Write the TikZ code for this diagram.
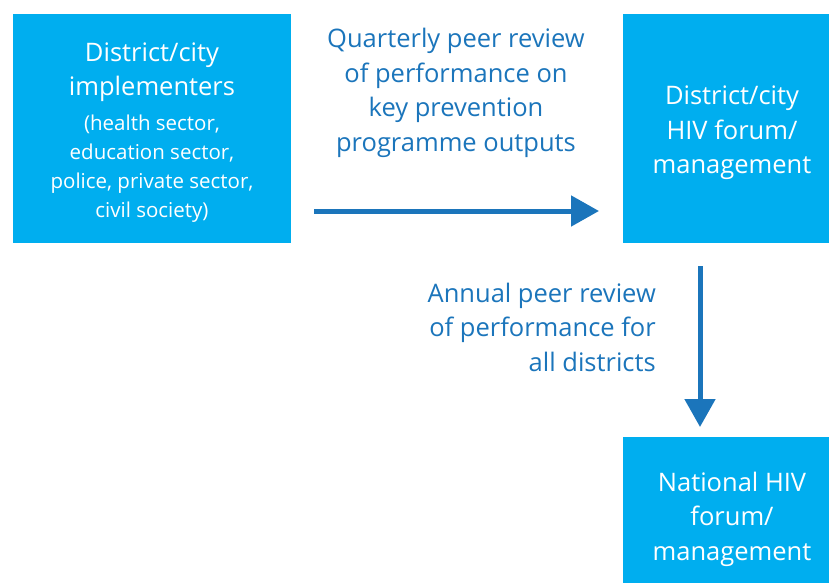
\documentclass[tikz,border=0pt]{standalone}
\usepackage{fontspec}
\setmainfont{Open Sans}
\usepackage{xcolor}
\usepackage{tikz}
\usetikzlibrary{arrows.meta}

\definecolor{boxcyan}{HTML}{00AEEF}
\definecolor{flowblue}{HTML}{1B75BB}

\tikzset{
  unitbox/.style={fill=boxcyan, draw=none, text=white, align=center, inner sep=0pt},
  flow/.style={draw=flowblue, line width=5pt, -{Triangle[length=28pt,width=30pt]}},
  flowlabel/.style={text=flowblue, inner sep=0pt}
}

\begin{document}
\begin{tikzpicture}[x=1pt, y=-1pt, every node/.style={font=\fontsize{25.5}{34.5}\selectfont}]
  \useasboundingbox (0,0) rectangle (829,583);

  % The three levels
  \node[unitbox, minimum width=278pt, minimum height=229pt] (impl) at (152,128.5) {};
  \node[unitbox, minimum width=206pt, minimum height=229pt] (forum) at (726,128.5) {};
  \node[unitbox, minimum width=206pt, minimum height=146pt] (national) at (726,510) {};

  % Texts inside the boxes
  \node[text=white, align=center] (impltxt) at (152,72) {District/city\\implementers};
  \node[text=white, align=center, font=\fontsize{20.5}{29}\selectfont] (implsub) at (152,169) {(health sector,\\education sector,\\police, private sector,\\civil society)};
  \node[text=white, align=center] (forumtxt) at (732,133) {District/city\\HIV forum/\\management};
  \node[text=white, align=center] (nattxt) at (732,519) {National HIV\\forum/\\management};

  % End points of the two arrows
  \coordinate (qstart) at (314,211);
  \coordinate (qend) at (599,211);
  \coordinate (astart) at (700,266);
  \coordinate (aend) at (700,427);

  \draw[flow] (qstart) -- (qend);
  \draw[flow] (astart) -- (aend);

  % Arrow labels
  \node[flowlabel, align=center] (qlabel) at (456,93) {Quarterly peer review\\of performance on\\key prevention\\programme outputs};
  \node[flowlabel, align=right, anchor=east] (alabel) at (656,327) {Annual peer review\\of performance for\\all districts};
\end{tikzpicture}
\end{document}
